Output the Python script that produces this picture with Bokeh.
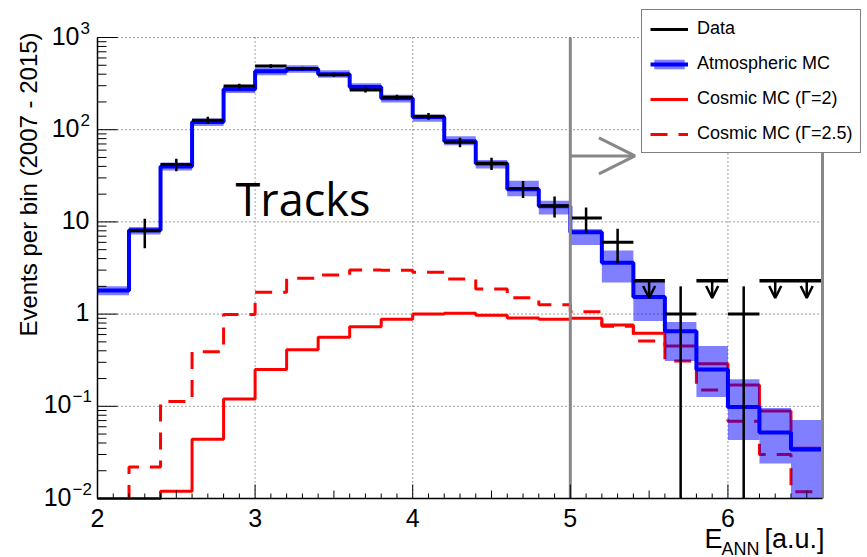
import numpy as np
from bokeh.plotting import figure
from bokeh.models import (ColumnDataSource, Label, Arrow, OpenHead,
                          Legend, LegendItem, Range1d)
from bokeh.embed import file_html
from bokeh.resources import INLINE

# ---- histogram binning (E_ANN) ----
bin_edges = [2.0, 2.2, 2.4, 2.6, 2.8, 3.0, 3.2, 3.4, 3.6, 3.8, 4.0, 4.2,
             4.4, 4.6, 4.8, 5.0, 5.2, 5.4, 5.6, 5.8, 6.0, 6.2, 6.4, 6.6]

# atmospheric MC expectation and its uncertainty band
atm_mc = [1.8, 8.1, 40, 121, 275, 430, 455, 400, 290, 220, 137, 75, 43,
          22.6, 14.8, 7.7, 3.6, 1.53, 0.65, 0.25, 0.098, 0.052, 0.034]
atm_lo = [1.6, 7.3, 36, 110, 250, 390, 415, 365, 265, 197, 122, 68, 38,
          19, 12, 5.6, 2.2, 0.84, 0.31, 0.126, 0.043, 0.024, 0.01]
atm_hi = [2.0, 8.8, 44, 132, 300, 470, 500, 440, 320, 240, 145, 85, 47,
          28, 17, 8.4, 4.9, 2.3, 0.82, 0.45, 0.197, 0.096, 0.071]

# cosmic neutrino MC for two spectral indices
cosmic_g2 = [0.01, 0.01, 0.012, 0.044, 0.12, 0.25, 0.41, 0.56, 0.73, 0.88,
             1.0, 1.02, 0.97, 0.91, 0.88, 0.9, 0.76, 0.62, 0.45, 0.29,
             0.17, 0.089, 0.035]
cosmic_g25 = [0.01, 0.022, 0.113, 0.39, 0.99, 1.73, 2.45, 2.65, 3.0, 2.99,
              2.85, 2.4, 1.87, 1.5, 1.26, 1.06, 0.74, 0.51, 0.31, 0.15,
              0.069, 0.03, 0.0118]

# observed events (bin centres) and upper limits for empty bins
data_x = [2.3, 2.5, 2.7, 2.9, 3.1, 3.3, 3.5, 3.7, 3.9, 4.1, 4.3, 4.5, 4.7,
          4.9, 5.1, 5.3, 5.7, 6.1]
data_n = [8, 42, 127, 297, 490, 460, 395, 270, 225, 140, 73, 43, 23, 15,
          11, 6, 1, 1]
ul_x = [5.5, 5.9, 6.3, 6.5]
ul_val = [2.3, 2.3, 2.3, 2.3]

# selection cut on E_ANN
cut_value = 5.0
cut_arrow_y = 52
cut_arrow_len = 0.41

# axis ticks
x_major = [2, 3, 4, 5, 6]
x_labels = ["2", "3", "4", "5", "6"]
y_decades = [-2, -1, 0, 1, 2, 3]

FONT = "Liberation Sans"
GRAY = "#888888"

# ---- page geometry: the frame fills the page, the plot box sits inside ----
W, H = 867, 557
BOX_L, BOX_R, BOX_T, BOX_B = 97, 822, 37, 498
x_lo, x_hi = 2.0, 6.6
y_lo, y_hi = 0.01, 1000.0
px_x = (x_hi - x_lo) / (BOX_R - BOX_L)                       # data / px
px_dec = (np.log10(y_hi) - np.log10(y_lo)) / (BOX_B - BOX_T)  # decades / px


def y_up(y, px):
    """y value `px` pixels above y on the log axis"""
    return y * 10 ** (px * px_dec)


p = figure(width=W, height=H, y_axis_type="log",
           x_range=Range1d(x_lo - BOX_L * px_x, x_hi + (W - BOX_R) * px_x),
           y_range=Range1d(10 ** (np.log10(y_lo) - (H - BOX_B) * px_dec),
                           10 ** (np.log10(y_hi) + BOX_T * px_dec)),
           x_axis_location=None, y_axis_location=None,
           output_backend="svg", toolbar_location=None,
           min_border=0, min_border_left=0, min_border_right=0,
           min_border_top=0, min_border_bottom=0)
p.background_fill_color = "white"
p.border_fill_color = "white"
p.outline_line_color = None
p.xgrid.visible = False
p.ygrid.visible = False

# ---- grid (dotted) ----
gx = [3, 4, 5, 6]
p.segment(x0=gx, x1=gx, y0=[y_lo] * 4, y1=[y_hi] * 4, line_color="black",
          line_alpha=0.75, line_dash="1 3", line_width=1)
gy = [0.1, 1, 10, 100, 1000]
p.segment(x0=[x_lo] * 5, x1=[x_hi] * 5, y0=gy, y1=gy, line_color="black",
          line_alpha=0.75, line_dash="1 3", line_width=1)

# ---- histograms ----
left = bin_edges[:-1]
right = bin_edges[1:]


def step_y(vals):
    return list(vals) + [vals[-1]]


red_solid = p.step(bin_edges, step_y(cosmic_g2), mode="after",
                   line_color="red", line_width=3)
red_dash = p.step(bin_edges, step_y(cosmic_g25), mode="after",
                  line_color="red", line_width=3, line_dash="17 11")

band_src = ColumnDataSource(dict(left=left, right=right,
                                 bottom=atm_lo, top=atm_hi))
band = p.quad(left="left", right="right", bottom="bottom", top="top",
              source=band_src, fill_color="blue", fill_alpha=0.5,
              line_color=None)
atm_line = p.step(bin_edges, step_y(atm_mc), mode="after",
                  line_color="blue", line_width=4)

# ---- data with Poisson errors ----
dx = np.array(data_x)
dn = np.array(data_n, dtype=float)
err = np.sqrt(dn)
lo = np.maximum(dn - err, y_lo)
hi = dn + err
data_bars = p.segment(x0=dx - 0.1, x1=dx + 0.1, y0=dn, y1=dn,
                      line_color="black", line_width=3)
p.segment(x0=dx, x1=dx, y0=lo, y1=hi, line_color="black", line_width=2.5)

# upper limits
ux = np.array(ul_x)
uv = np.array(ul_val)
p.segment(x0=ux - 0.1, x1=ux + 0.1, y0=uv, y1=uv, line_color="black",
          line_width=3.5)
for xx, vv in zip(ul_x, ul_val):
    p.add_layout(Arrow(x_start=xx, y_start=vv, x_end=xx, y_end=vv * 0.65,
                       line_color="black", line_width=2.5,
                       end=OpenHead(size=12, line_color="black",
                                    line_width=2.5)))

# ---- selection cut and right boundary ----
p.segment(x0=[cut_value, x_hi], x1=[cut_value, x_hi], y0=[y_lo, y_lo],
          y1=[y_hi, y_hi], line_color=GRAY, line_width=3)
p.add_layout(Arrow(x_start=cut_value, y_start=cut_arrow_y,
                   x_end=cut_value + cut_arrow_len, y_end=cut_arrow_y,
                   line_color=GRAY, line_width=3,
                   end=OpenHead(size=36, line_color=GRAY, line_width=3)))

# ---- axes: lines and inward ticks ----
p.segment(x0=[x_lo, x_lo], x1=[x_hi, x_lo], y0=[y_lo, y_lo],
          y1=[y_lo, y_hi], line_color="black", line_width=1.5)

x_minor = [round(x_lo + 0.1 * i, 1) for i in range(1, 46)]
x_tick_len = [14 if abs(t - round(t)) < 1e-6 else
              (8 if abs(t * 2 - round(t * 2)) < 1e-6 else 5)
              for t in x_minor]
p.segment(x0=x_minor, x1=x_minor, y0=[y_lo] * len(x_minor),
          y1=[y_up(y_lo, L) for L in x_tick_len], line_color="black",
          line_width=1)

y_major = [10.0 ** d for d in y_decades]
y_minor = [m * 10.0 ** d for d in y_decades[:-1] for m in range(2, 10)]
p.segment(x0=[x_lo] * len(y_major), x1=[x_lo + 20 * px_x] * len(y_major),
          y0=y_major, y1=y_major, line_color="black", line_width=1)
p.segment(x0=[x_lo] * len(y_minor), x1=[x_lo + 9 * px_x] * len(y_minor),
          y0=y_minor, y1=y_minor, line_color="black", line_width=1)

# x tick labels
for t, s in zip(x_major, x_labels):
    p.add_layout(Label(x=t, y=H - 517, x_units="data", y_units="screen",
                       text=s, text_font=FONT, text_font_size="25px",
                       text_align="center", text_baseline="middle",
                       text_color="black"))

# y tick labels: 1 and 10 plain, others as 10 with a superscript
sup = {-2: "\u22122", -1: "\u22121", 2: "2", 3: "3"}
for d in y_decades:
    yv = 10.0 ** d
    if d in (0, 1):
        p.add_layout(Label(x=89, y=yv, x_units="screen", y_units="data",
                           text=str(10 ** d), text_font=FONT,
                           text_font_size="25px", text_align="right",
                           text_baseline="middle", y_offset=2,
                           text_color="black"))
    else:
        base_r = 79 if d > 0 else 71
        p.add_layout(Label(x=base_r + 1, y=yv, x_units="screen",
                           y_units="data", text=sup[d], text_font=FONT,
                           text_font_size="17px", text_align="left",
                           text_baseline="middle", y_offset=10,
                           text_color="black"))
        p.add_layout(Label(x=base_r, y=yv, x_units="screen", y_units="data",
                           text="10", text_font=FONT, text_font_size="25px",
                           text_align="right", text_baseline="middle",
                           y_offset=2, text_color="black"))

# y axis title
p.add_layout(Label(x=28, y=H - 184, x_units="screen", y_units="screen",
                   text="Events per bin (2007 - 2015)", angle=np.pi / 2,
                   text_font=FONT, text_font_size="24px",
                   text_align="center", text_baseline="middle",
                   text_color="black"))

# x axis title: E_ANN [a.u.]
p.add_layout(Label(x=704, y=H - 538, x_units="screen", y_units="screen",
                   text="E", text_font=FONT, text_font_size="27px",
                   text_baseline="middle", text_color="black"))
p.add_layout(Label(x=721, y=H - 548, x_units="screen", y_units="screen",
                   text="ANN", text_font=FONT, text_font_size="18px",
                   text_baseline="middle", text_color="black"))
p.add_layout(Label(x=764, y=H - 538, x_units="screen", y_units="screen",
                   text="[a.u.]", text_font=FONT, text_font_size="27px",
                   text_baseline="middle", text_color="black"))

# channel tag
p.add_layout(Label(x=235, y=H - 198, x_units="screen", y_units="screen",
                   text="Tracks", text_font="Open Sans",
                   text_font_size="45px", text_color="black",
                   text_baseline="middle"))

# ---- legend ----
legend = Legend(items=[
    LegendItem(label="Data", renderers=[data_bars]),
    LegendItem(label="Atmospheric MC", renderers=[band, atm_line]),
    LegendItem(label="Cosmic MC (\u0393=2)", renderers=[red_solid]),
    LegendItem(label="Cosmic MC (\u0393=2.5)", renderers=[red_dash]),
], location=(641, H - 153), orientation="vertical")
legend.label_text_font = FONT
legend.label_text_font_size = "18px"
legend.label_text_color = "black"
legend.glyph_width = 38
legend.glyph_height = 12
legend.label_height = 21
legend.label_standoff = 9
legend.padding = 8
legend.spacing = 14
legend.border_line_color = "black"
legend.border_line_width = 1
legend.background_fill_color = "white"
legend.background_fill_alpha = 1
p.add_layout(legend)

open("out.html", "w").write(file_html(p, INLINE))
